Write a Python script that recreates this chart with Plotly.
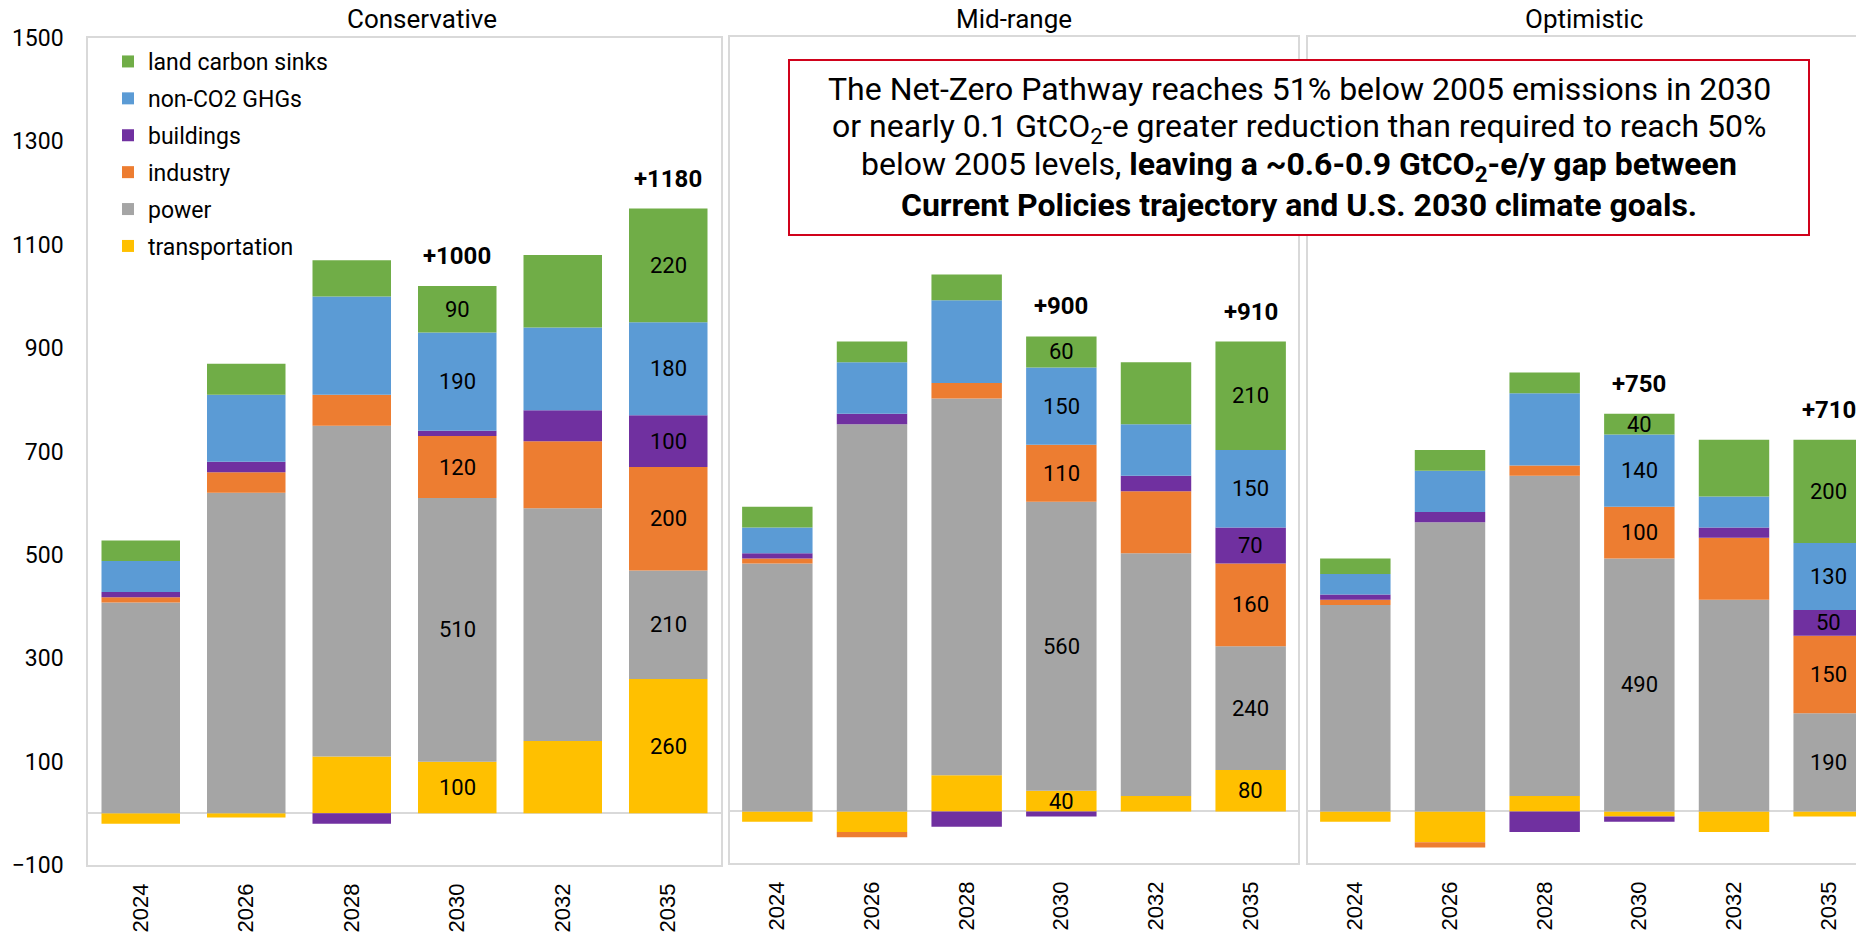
import plotly.graph_objects as go

W, H = 1856, 937

years = ["2024", "2026", "2028", "2030", "2032", "2035"]
series_names = ["transportation", "power", "industry", "buildings", "non-CO2 GHGs", "land carbon sinks"]
series_colors = ["#FFC000", "#A5A5A5", "#ED7D31", "#7030A0", "#5B9BD5", "#70AD47"]

# Conservative scenario
cons_transportation = [-20, -8, 110, 100, 140, 260]
cons_power = [408, 620, 640, 510, 450, 210]
cons_industry = [10, 40, 60, 120, 130, 200]
cons_buildings = [10, 20, -20, 10, 60, 100]
cons_nonco2 = [60, 130, 190, 190, 160, 180]
cons_land = [40, 60, 70, 90, 140, 220]

# Mid-range scenario
mid_transportation = [-20, -40, 70, 40, 30, 80]
mid_power = [480, 750, 730, 560, 470, 240]
mid_industry = [10, -10, 30, 110, 120, 160]
mid_buildings = [10, 20, -30, -10, 30, 70]
mid_nonco2 = [50, 100, 160, 150, 100, 150]
mid_land = [40, 40, 50, 60, 120, 210]

# Optimistic scenario
opt_transportation = [-20, -60, 30, -10, -40, -10]
opt_power = [400, 560, 620, 490, 410, 190]
opt_industry = [10, -10, 20, 100, 120, 150]
opt_buildings = [10, 20, -40, -10, 20, 50]
opt_nonco2 = [40, 80, 140, 140, 60, 130]
opt_land = [30, 40, 40, 40, 110, 200]

labeled_years = ["2030", "2035"]
cons_totals = {"2030": "+1000", "2035": "+1180"}
mid_totals = {"2030": "+900", "2035": "+910"}
opt_totals = {"2030": "+750", "2035": "+710"}

panel_titles = ["Conservative", "Mid-range", "Optimistic"]
y_ticks = [-100, 100, 300, 500, 700, 900, 1100, 1300, 1500]

panels = [
    (panel_titles[0], [cons_transportation, cons_power, cons_industry, cons_buildings, cons_nonco2, cons_land], cons_totals),
    (panel_titles[1], [mid_transportation, mid_power, mid_industry, mid_buildings, mid_nonco2, mid_land], mid_totals),
    (panel_titles[2], [opt_transportation, opt_power, opt_industry, opt_buildings, opt_nonco2, opt_land], opt_totals),
]

FONT = "Roboto"
GRID = "#D9D9D9"

fig = go.Figure()
annotations = []

# pixel layout of the three plot areas
x_dom_px = [(88, 721), (730, 1298), (1308, W)]
y_dom_px = [(38, 865), (37, 863), (37, 863)]
title_x_px = [422, 1014, 1584]

n_series = len(series_names)
for p, (title, series, totals) in enumerate(panels):
    xa = "x" if p == 0 else f"x{p+1}"
    ya = "y" if p == 0 else f"y{p+1}"
    for s, (name, color) in enumerate(zip(series_names, series_colors)):
        fig.add_trace(go.Bar(
            x=years, y=series[s], name=name, marker_color=color,
            marker_line_width=0, xaxis=xa, yaxis=ya,
            legendgroup=name, showlegend=(p == 0), legendrank=n_series - s,
        ))
    # segment labels and totals
    for i, yr in enumerate(years):
        pos_base = 0
        for s in range(n_series):
            v = series[s][i]
            if v >= 0:
                mid = pos_base + v / 2
                pos_base += v
                if yr in labeled_years and v >= 40:
                    annotations.append(dict(
                        x=i, y=mid, xref=xa, yref=ya, text=str(v), showarrow=False,
                        font=dict(family=FONT, size=22, color="#000"),
                        xanchor="center", yanchor="middle"))
        if yr in totals:
            annotations.append(dict(
                x=i, y=pos_base, xref=xa, yref=ya, text="<b>" + totals[yr] + "</b>",
                showarrow=False, yshift=30,
                font=dict(family=FONT, size=24, color="#000"),
                xanchor="center", yanchor="middle"))
    annotations.append(dict(
        x=title_x_px[p] / W, y=1 - 19 / H, xref="paper", yref="paper", text=title,
        showarrow=False, font=dict(family=FONT, size=26, color="#000"),
        xanchor="center", yanchor="middle"))

layout = dict(
    width=W, height=H, margin=dict(l=0, r=0, t=0, b=0, autoexpand=False),
    paper_bgcolor="white", plot_bgcolor="white",
    barmode="relative", bargap=0.256,
    font=dict(family=FONT, size=22, color="#000"),
    legend=dict(
        x=108 / W, y=1 - 40 / H, xanchor="left", yanchor="top",
        traceorder="grouped", tracegroupgap=4,
        font=dict(family=FONT, size=23, color="#000"),
        bgcolor="rgba(0,0,0,0)", itemwidth=30,
    ),
)

for p in range(3):
    xk = "xaxis" if p == 0 else f"xaxis{p+1}"
    yk = "yaxis" if p == 0 else f"yaxis{p+1}"
    ya_anchor = "y" if p == 0 else f"y{p+1}"
    xa_anchor = "x" if p == 0 else f"x{p+1}"
    x0, x1 = x_dom_px[p]
    top, bot = y_dom_px[p]
    ncat = len(years)
    cat_px = (x_dom_px[1][1] - x_dom_px[1][0]) / ncat
    if p == 2:
        xr = [-0.5, -0.5 + (x1 - x0) / cat_px]
    else:
        xr = [-0.5, ncat - 0.5]
    layout[xk] = dict(
        domain=[x0 / W, x1 / W], anchor=ya_anchor, type="category",
        categoryorder="array", categoryarray=years, range=xr,
        showline=True, linecolor=GRID, linewidth=1.5, mirror=True,
        showgrid=False, zeroline=False, ticks="", tickangle=-90,
        ticklabelstandoff=8, automargin=False,
        tickfont=dict(family="Liberation Sans", size=22, color="#000"),
    )
    layout[yk] = dict(
        domain=[1 - bot / H, 1 - top / H], anchor=xa_anchor,
        range=[-100, 1500], tickvals=y_ticks, showticklabels=(p == 0),
        showline=True, linecolor=GRID, linewidth=1.5, mirror=True,
        showgrid=False, zeroline=True, zerolinecolor=GRID, zerolinewidth=1.5,
        ticks="", ticklabelstandoff=18, automargin=False,
        tickfont=dict(family=FONT, size=23, color="#000"),
    )

fig.update_layout(**layout)

# callout box
fig.add_shape(type="rect", xref="paper", yref="paper",
              x0=789 / W, x1=1809 / W, y0=1 - 235 / H, y1=1 - 60 / H,
              line=dict(color="#D0021B", width=2), fillcolor="white", layer="above")

box_lines = [
    "The Net-Zero Pathway reaches 51% below 2005 emissions in 2030",
    "or nearly 0.1 GtCO<sub>2</sub>-e greater reduction than required to reach 50%",
    "below 2005 levels, <b>leaving a ~0.6-0.9 GtCO<sub>2</sub>-e/y gap between</b>",
    "<b>Current Policies trajectory and U.S. 2030 climate goals.</b>",
]
box_line_y = [89, 128, 166, 205]
for txt, yy in zip(box_lines, box_line_y):
    annotations.append(dict(
        x=1299 / W, y=1 - yy / H, xref="paper", yref="paper", text=txt,
        showarrow=False, font=dict(family=FONT, size=32, color="#000"),
        xanchor="center", yanchor="middle"))

fig.update_layout(annotations=annotations)

fig.write_html("out.html", config={"displayModeBar": False},
               post_script="document.body.style.margin='0';document.body.style.overflow='hidden';")
